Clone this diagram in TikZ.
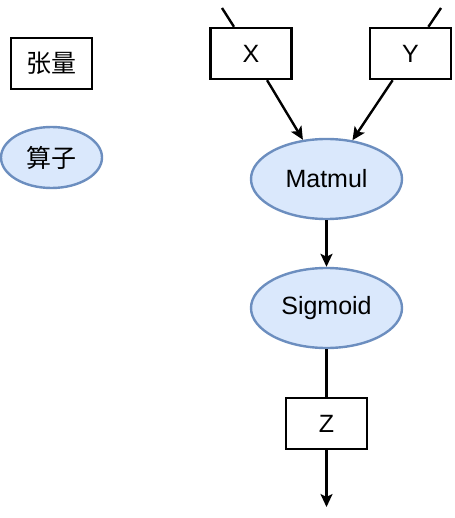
\documentclass[tikz,border=0pt]{standalone}
\usepackage{fontspec}
\setmainfont{Liberation Sans}
\newfontfamily\cjk{Noto Sans CJK SC}
\usetikzlibrary{shapes.geometric,arrows.meta}
\definecolor{opfill}{HTML}{DAE8FC}
\definecolor{opline}{HTML}{6C8EBF}
\tikzset{
    tensor/.style={draw, line width=2.4pt, minimum width=81pt, minimum height=51pt, inner sep=0pt, font=\fontsize{25}{29}\selectfont},
    op/.style={ellipse, draw=opline, fill=opfill, line width=2.4pt, minimum width=151pt, minimum height=80pt, inner sep=0pt, font=\fontsize{25}{29}\selectfont},
    flow/.style={line width=2.4pt, -{Stealth[length=13pt, width=12pt, inset=3pt]}}
}
\begin{document}
\begin{tikzpicture}[x=1pt, y=-1pt]
                \useasboundingbox (0, 0) rectangle (454, 518);
                % legend
                \node[tensor] (legendT) at (51.5, 63.5) {\cjk 张量};
                \node[op, minimum width=101pt, minimum height=61pt] (legendO) at (51.5, 157.5) {\cjk 算子};
                % graph
                \node[tensor] (x) at (251, 53.5) {X};
                \node[tensor] (y) at (410.5, 53.5) {Y};
                \node[op] (matmul) at (326.5, 179) {Matmul};
                \node[op] (sigmoid) at (326.5, 308) {Sigmoid};
                \node[tensor] (z) at (326.5, 423.5) {Z};
                \path (222, 8) coordinate (xin);
                \path (441, 8) coordinate (yin);
                \path (326.5, 507) coordinate (zout);
                \draw[line width=2.4pt] (xin) -- (x);
                \draw[line width=2.4pt] (yin) -- (y);
                \draw[flow] (x) -- (matmul);
                \draw[flow] (y) -- (matmul);
                \draw[flow] (matmul) -- (sigmoid);
                \draw[line width=2.4pt] (sigmoid) -- (z);
                \draw[flow] (z) -- (zout);
\end{tikzpicture}
\end{document}
